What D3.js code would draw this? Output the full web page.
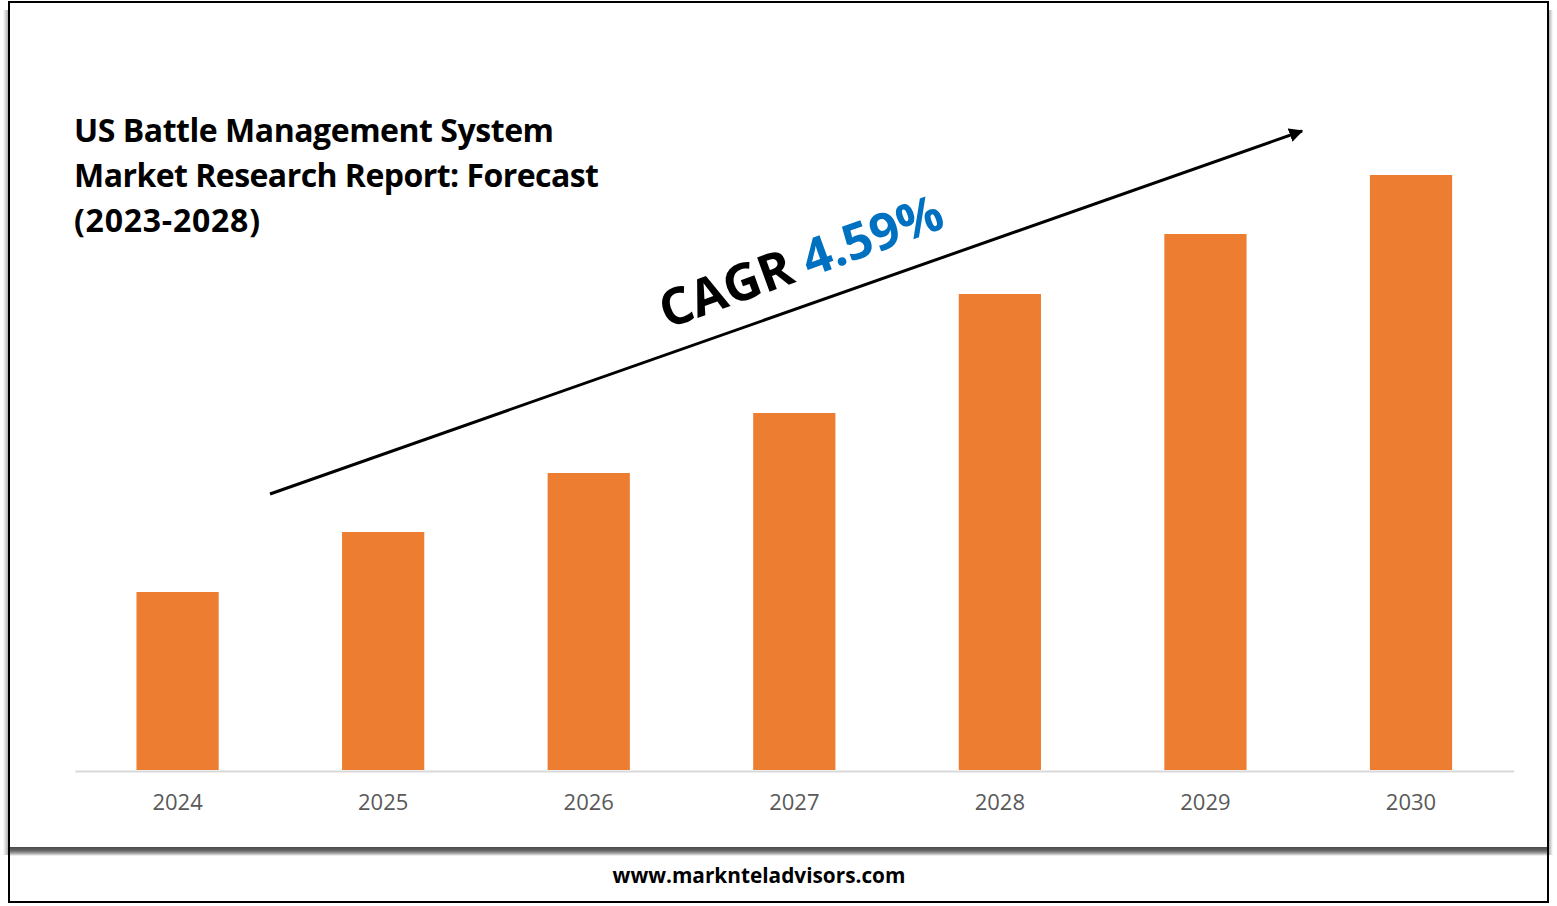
<!DOCTYPE html>
<html><head><meta charset="utf-8">
<script src="https://cdn.jsdelivr.net/npm/d3@7"></script>
<style>html,body{margin:0;padding:0;background:#fff;overflow:hidden}svg{display:block}text{font-family:"Open Sans","Noto Sans",sans-serif}</style>
</head><body><svg id="c" width="1557" height="906"></svg>
<script>
const years = ["2024","2025","2026","2027","2028","2029","2030"];
const values = [178,238,297,357,476,536,595];
const titleLines = ["US Battle Management System","Market Research Report: Forecast","(2023-2028)"];
const footer = "www.marknteladvisors.com";
const titleWidths = [480,525,186];

const svg = d3.select("#c");
const defs = svg.append("defs");
const g1 = defs.append("linearGradient").attr("id","sb").attr("x1",0).attr("y1",0).attr("x2",0).attr("y2",1);
[[0,"#484848"],[0.4,"#666666"],[0.75,"#b0b0b0"],[1,"#ffffff"]].forEach(d=>g1.append("stop").attr("offset",d[0]).attr("stop-color",d[1]));
const g2 = defs.append("linearGradient").attr("id","sl").attr("x1",1).attr("y1",0).attr("x2",0).attr("y2",0);
[[0,"#b0b0b0"],[1,"#ffffff"]].forEach(d=>g2.append("stop").attr("offset",d[0]).attr("stop-color",d[1]));
const g3 = defs.append("linearGradient").attr("id","sr").attr("x1",0).attr("y1",0).attr("x2",1).attr("y2",0);
[[0,"#b0b0b0"],[1,"#ffffff"]].forEach(d=>g3.append("stop").attr("offset",d[0]).attr("stop-color",d[1]));
defs.append("marker").attr("id","ah").attr("viewBox","0 0 10 10").attr("refX",9).attr("refY",5)
  .attr("markerUnits","userSpaceOnUse").attr("markerWidth",14).attr("markerHeight",14).attr("orient","auto")
  .append("path").attr("d","M0,0L10,5L0,10Z").attr("fill","#000");

// panel shadows
svg.append("rect").attr("x",3).attr("y",10).attr("width",5).attr("height",845).attr("fill","url(#sl)");
svg.append("rect").attr("x",1549).attr("y",10).attr("width",4).attr("height",845).attr("fill","url(#sr)");
svg.append("rect").attr("x",10).attr("y",847).attr("width",1537).attr("height",9).attr("fill","url(#sb)");

// frame
svg.append("rect").attr("x",9).attr("y",2).attr("width",1539).attr("height",900)
  .attr("fill","none").attr("stroke","#000").attr("stroke-width",2);

const x = d3.scaleBand().domain(years).range([74.8,1513.8]).paddingInner(0.6).paddingOuter(0.3);
const y = d3.scaleLinear().domain([0,595]).range([770,175]);

svg.selectAll("rect.bar").data(years).join("rect").attr("class","bar")
  .attr("x",d=>x(d)).attr("width",x.bandwidth())
  .attr("y",(d,i)=>y(values[i])).attr("height",(d,i)=>y(0)-y(values[i]))
  .attr("fill","#ed7d31");

const axis = svg.append("g").attr("transform","translate(0,771)").call(d3.axisBottom(x).tickSize(0).tickPadding(23));
axis.select(".domain").attr("stroke","#d9d9d9").attr("stroke-width",2);
axis.selectAll("text").attr("font-size",22).attr("fill","#595959").style("font-family",'"Open Sans","Noto Sans",sans-serif');

svg.append("g").selectAll("text").data(titleLines).join("text")
  .attr("x",74).attr("y",(d,i)=>142+i*45)
  .attr("font-size",32).attr("font-weight",700).attr("fill","#000")
  .attr("textLength",(d,i)=>titleWidths[i]).attr("lengthAdjust","spacing").text(d=>d);

svg.append("line").attr("x1",270).attr("y1",494).attr("x2",1302).attr("y2",131)
  .attr("stroke","#000").attr("stroke-width",3).attr("marker-end","url(#ah)");

const cagr = svg.append("text").attr("transform","translate(667,329) rotate(-20)")
  .attr("font-size",51).attr("font-weight",700);
cagr.append("tspan").attr("fill","#000").text("CAGR ");
cagr.append("tspan").attr("fill","#0070c0").attr("font-size",50.5).text("4.59%");

svg.append("text").attr("x",759).attr("y",883).attr("text-anchor","middle")
  .attr("font-size",20.8).attr("font-weight",700).attr("fill","#000").text(footer);
</script></body></html>
